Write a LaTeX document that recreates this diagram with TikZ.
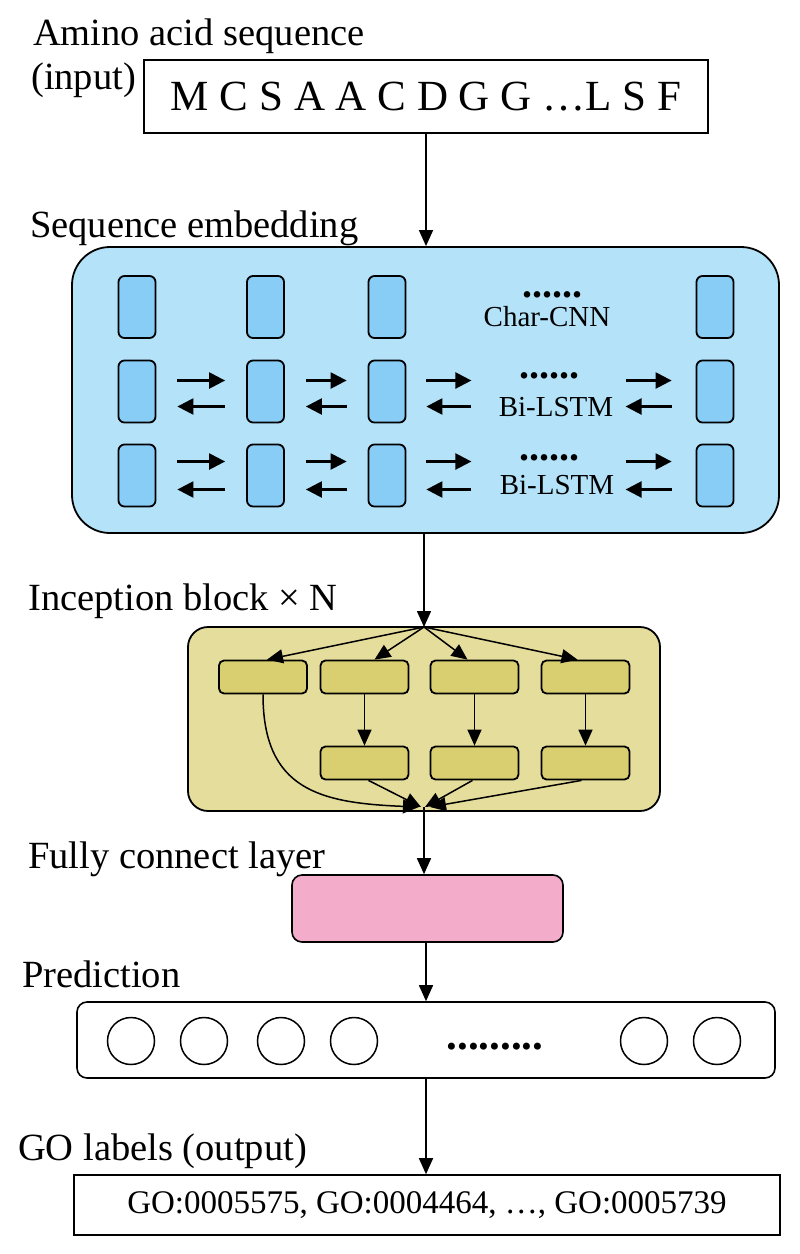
\documentclass[tikz,border=0pt]{standalone}
\usepackage{fontspec}
\setmainfont{Liberation Serif}
\usetikzlibrary{arrows.meta}
\definecolor{embedfill}{RGB}{179,226,249}
\definecolor{cellfill}{RGB}{136,205,246}
\definecolor{incepfill}{RGB}{229,221,155}
\definecolor{blockfill}{RGB}{217,207,112}
\definecolor{fcfill}{RGB}{243,173,203}
\begin{document}
\begin{tikzpicture}[x=1pt,y=-1pt, % pixel grid, y downwards
   lbl/.style={font=\fontsize{38.5}{42}\selectfont,inner sep=0pt,anchor=base west},
   plain/.style={draw,line width=1.6pt,inner sep=0pt},
   cell/.style={draw,line width=1.8pt,fill=cellfill,rounded corners=6pt,
     minimum width=37pt,minimum height=62pt,inner sep=0pt},
   block/.style={draw,line width=1.8pt,fill=blockfill,rounded corners=5pt,
     minimum width=88pt,minimum height=33pt,inner sep=0pt},
   tag/.style={font=\fontsize{29}{32}\selectfont,inner sep=0pt,anchor=base},
   more/.style={font=\bfseries\fontsize{40}{44}\selectfont,inner sep=0pt},
   flow/.style={line width=1.5pt,-{Triangle[length=16pt,width=14pt]}},
   lstm/.style={line width=2.4pt,-{Triangle[length=16pt,width=16pt]}}]
   \useasboundingbox (0,0) rectangle (800,1254);
   % input
   \node[lbl] (lblseq) at (33,45) {Amino acid sequence};
   \node[lbl] (lblinput) at (31,89) {(input)};
   \node[plain,minimum width=564pt,minimum height=73pt,
     font=\fontsize{43}{46}\selectfont] (seq) at (426,96.5)
    {M C S A A C D G G …L S F};
   % sequence embedding
   \node[lbl] (lblembed) at (30,237) {Sequence embedding};
   \node[draw,line width=1.8pt,fill=embedfill,rounded corners=38pt,
     minimum width=707pt,minimum height=286pt] (embed) at (425.5,390) {};
   \foreach \r/\y in {1/307,2/391.5,3/475.5}
    \foreach \c/\x in {1/137,2/265.5,3/387,4/715}
     \node[cell] (c\r\c) at (\x,\y) {};
   \node[more] (dots1) at (552,295) {......};
   \node[tag] (cnn) at (547,326) {Char-CNN};
   \node[more] (dots2) at (549,376) {......};
   \node[tag] (lstm2) at (556,416) {Bi-LSTM};
   \node[more] (dots3) at (549,458) {......};
   \node[tag] (lstm3) at (557,494) {Bi-LSTM};
   \foreach \r/\u/\d in {2/11/-15,3/14/-14} {
     \foreach \a/\b in {1/2,2/3} {
       \draw[lstm,shorten <=21pt,shorten >=21pt]
         ([yshift=\u]c\r\a.east) -- ([yshift=\u]c\r\b.west);
       \draw[lstm,shorten <=21pt,shorten >=21pt]
         ([yshift=\d]c\r\b.west) -- ([yshift=\d]c\r\a.east);
     }
     \draw[lstm] ([xshift=20,yshift=\u]c\r3.east) -- ++(45,0);
     \draw[lstm] ([xshift=65,yshift=\d]c\r3.east) -- ++(-45,0);
     \draw[lstm] ([xshift=-70,yshift=\u]c\r4.west) -- ++(46,0);
     \draw[lstm] ([xshift=-24,yshift=\d]c\r4.west) -- ++(-46,0);
   }
   % inception block
   \node[lbl] (lblincep) at (28,610) {Inception block × N};
   \node[draw,line width=1.8pt,fill=incepfill,rounded corners=20pt,
     minimum width=472pt,minimum height=184pt] (incep) at (424,719) {};
   \foreach \i/\x in {1/263,2/364.5,3/474.5,4/585.5}
     \node[block] (top\i) at (\x,677) {};
   \foreach \i/\x in {2/364.5,3/474.5,4/585.5}
     \node[block] (bot\i) at (\x,763) {};
   \coordinate (fork) at (424,627);
   \coordinate (join) at (424,807);
   \foreach \i/\s in {1/4,2/10,3/-7,4/-8}
     \draw[flow] (fork) -- ([xshift=\s]top\i.north);
   \foreach \i in {2,3,4}
     \draw[flow] (top\i.south) -- (bot\i.north);
   \draw[flow] (top1.south) .. controls (263,790) and (320,803) .. ([xshift=-5]join);
   \foreach \i/\s/\t in {2/4/-3,3/-2/1,4/-4/6}
     \draw[flow] ([xshift=\s]bot\i.south) -- ([xshift=\t]join);
   % fully connected layer
   \node[lbl] (lblfc) at (28,868) {Fully connect layer};
   \node[draw,line width=1.6pt,fill=fcfill,rounded corners=10pt,
     minimum width=271pt,minimum height=67pt] (fc) at (427.5,908.5) {};
   % prediction
   \node[lbl] (lblpred) at (22,987) {Prediction};
   \node[draw,line width=1.6pt,rounded corners=10pt,
     minimum width=698pt,minimum height=76pt] (pred) at (426,1040) {};
   \foreach \i/\x in {1/131,2/204,3/281,4/354,5/644,6/717}
     \node[draw,circle,line width=1.5pt,minimum size=47pt,inner sep=0pt]
       (out\i) at (\x,1041) {};
   \node[more,font=\bfseries\fontsize{43}{46}\selectfont] (outdots) at (495,1047) {.........};
   % output
   \node[lbl] (lblgo) at (18,1160) {GO labels (output)};
   \node[plain,minimum width=706pt,minimum height=60pt,
     font=\fontsize{33}{36}\selectfont] (go) at (427,1205)
    {GO:0005575, GO:0004464, …, GO:0005739};
   % main flow
   \draw[flow] (seq.south) -- (seq.south |- embed.north);
   \draw[flow] (embed.south -| fork) -- (fork);
   \draw[flow] (join) -- (join |- fc.north);
   \draw[flow] (fc.south -| seq) -- (seq |- pred.north);
   \draw[flow] (pred.south -| seq) -- (seq |- go.north);
  \end{tikzpicture}
\end{document}
